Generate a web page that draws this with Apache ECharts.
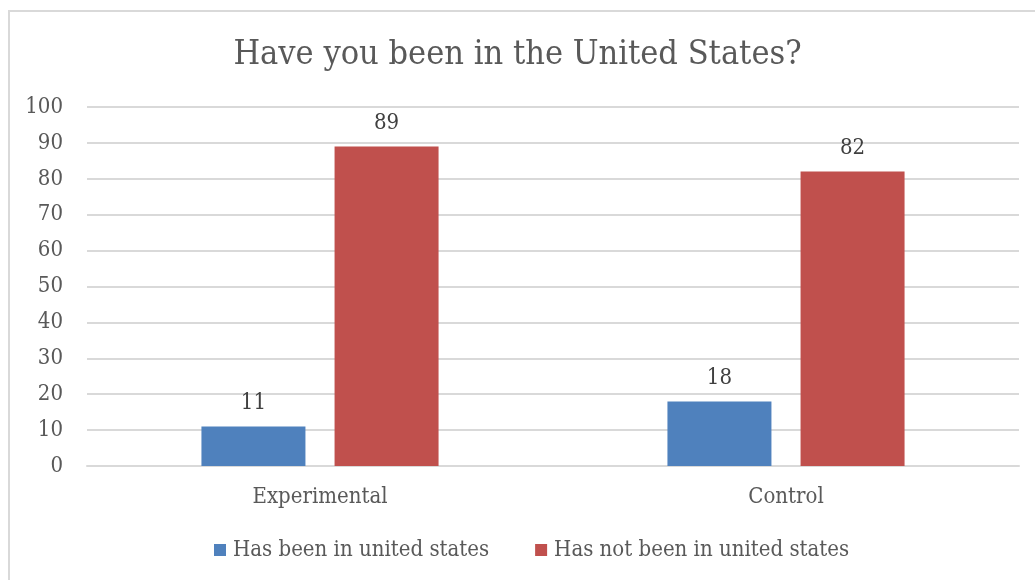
<!DOCTYPE html>
<html>
<head>
<meta charset="utf-8">
<script src="https://cdn.jsdelivr.net/npm/echarts@6/dist/echarts.min.js"></script>
<style>
  html, body { margin: 0; padding: 0; background: #fff; }
  #frame { position: absolute; left: 8px; top: 10px; width: 1040px; height: 580px; border: 2px solid #d9d9d9; box-sizing: border-box; }
  #chart { position: absolute; left: 0; top: 0; width: 1035px; height: 580px; }
</style>
</head>
<body>
<div id="frame"></div>
<div id="chart"></div>
<script>
// Survey responses by group
const categories = ['Experimental', 'Control'];
const hasBeen = [11, 18];
const hasNotBeen = [89, 82];
const seriesNames = ['Has been in united states', 'Has not been in united states'];
const yTicks = { min: 0, max: 100, interval: 10 };

const FONT = '"DejaVu Serif Condensed", "DejaVu Serif", serif';
const TEXT = '#595959';

const chart = echarts.init(document.getElementById('chart'));
chart.setOption({
  animation: false,
  textStyle: { fontFamily: FONT },
  title: {
    text: 'Have you been in the United States?',
    left: 'center',
    top: 33,
    textStyle: { fontFamily: FONT, fontSize: 34, fontWeight: 'normal', color: TEXT }
  },
  legend: {
    data: seriesNames,
    top: 534,
    left: 209,
    itemWidth: 12,
    itemHeight: 12,
    itemGap: 46,
    icon: 'rect',
    textStyle: { fontFamily: FONT, fontSize: 22, color: TEXT, padding: [0, 0, 0, 2] }
  },
  grid: { left: 87, right: 16, top: 107, bottom: 114, containLabel: false },
  xAxis: {
    type: 'category',
    data: categories,
    axisLine: { lineStyle: { color: '#d9d9d9', width: 2 } },
    axisTick: { show: false },
    axisLabel: { fontFamily: FONT, fontSize: 22, color: TEXT, margin: 20 }
  },
  yAxis: {
    type: 'value',
    min: yTicks.min,
    max: yTicks.max,
    interval: yTicks.interval,
    axisLine: { show: false },
    axisTick: { show: false },
    splitLine: { lineStyle: { color: '#d9d9d9', width: 2 } },
    axisLabel: { fontFamily: FONT, fontSize: 22, color: TEXT, margin: 24 }
  },
  series: [
    {
      name: seriesNames[0],
      type: 'bar',
      data: hasBeen,
      barWidth: 104,
      barGap: '28%',
      itemStyle: { color: '#4F81BD' },
      label: { show: true, position: 'top', distance: 12, fontFamily: FONT, fontSize: 22, color: '#404040' }
    },
    {
      name: seriesNames[1],
      type: 'bar',
      data: hasNotBeen,
      barWidth: 104,
      barGap: '28%',
      itemStyle: { color: '#C0504D' },
      label: { show: true, position: 'top', distance: 12, fontFamily: FONT, fontSize: 22, color: '#404040' }
    }
  ]
});
</script>
</body>
</html>
